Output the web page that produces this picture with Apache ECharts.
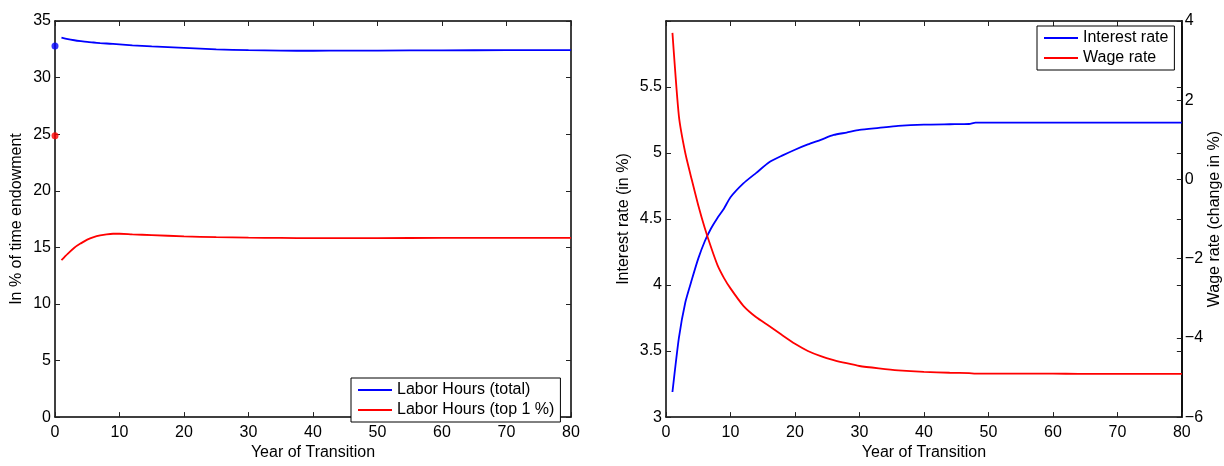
<!DOCTYPE html>
<html>
<head>
<meta charset="utf-8">
<script src="https://cdn.jsdelivr.net/npm/echarts/dist/echarts.min.js"></script>
<style>
html,body{margin:0;padding:0;background:#fff;}
#chart{width:1224px;height:466px;}
</style>
</head>
<body>
<div id="chart"></div>
<script>
// ---- Left panel data ----
const yearsL = [1,2,3,4,5,6,7,8,9,10,12,15,20,25,30,35,40,45,50,60,70,80];
const laborTotal = [33.54,33.40,33.30,33.22,33.15,33.10,33.05,33.01,32.97,32.93,32.85,32.75,32.62,32.50,32.42,32.38,32.37,32.38,32.39,32.41,32.42,32.42];
const laborTop1 = [13.87,14.45,14.97,15.35,15.68,15.90,16.05,16.15,16.20,16.20,16.15,16.08,15.97,15.90,15.85,15.83,15.82,15.82,15.82,15.83,15.83,15.83];
const initialYear = 0;
const initialTotal = 32.8;
const initialTop1 = 24.87;

// ---- Right panel data ----
const yearsR = [1,2,3,4,5,6,7,8,9,10,12,14,16,18,20,22,24,26,28,30,33,36,40,44,47,48,52,56,60,64,68,72,76,80];
const interestRate = [3.19,3.60,3.87,4.04,4.20,4.33,4.43,4.51,4.58,4.665,4.77,4.85,4.93,4.98,5.025,5.065,5.10,5.137,5.155,5.175,5.19,5.205,5.215,5.218,5.22,5.23,5.23,5.23,5.23,5.23,5.23,5.23,5.23,5.23];
const wageRate = [3.70,1.60,0.66,-0.01,-0.65,-1.22,-1.72,-2.17,-2.49,-2.75,-3.19,-3.48,-3.70,-3.93,-4.15,-4.33,-4.46,-4.56,-4.64,-4.71,-4.77,-4.82,-4.86,-4.88,-4.89,-4.90,-4.90,-4.90,-4.90,-4.91,-4.91,-4.91,-4.91,-4.91];

// ---- Labels ----
const xName = 'Year of Transition';
const leftYName = 'In % of time endowment';
const interestName = 'Interest rate (in %)';
const wageName = 'Wage rate (change in %)';
const seriesNames = ['Labor Hours (total)','Labor Hours (top 1 %)','Interest rate','Wage rate'];

const FONT = "'Liberation Sans', Arial, Helvetica, sans-serif";
const BLUE = '#0000ff', RED = '#ff0000';

function pairs(xs, ys){ return xs.map((x,i)=>[x, ys[i]]); }

const axisLineStyle = {show:true, onZero:false, lineStyle:{color:'#000', width:1.5}};
const tickStyle = {show:true, inside:true, length:5, lineStyle:{color:'#222', width:1}};
const labelStyle = {color:'#000', fontSize:16, fontFamily:FONT};
const nameStyle = {color:'#000', fontSize:16, fontFamily:FONT};

function xAxisBottom(grid){
  return {type:'value', gridIndex:grid, position:'bottom', min:0, max:80, interval:10,
    axisLine:axisLineStyle, axisTick:tickStyle, splitLine:{show:false},
    axisLabel:Object.assign({margin:7}, labelStyle),
    name:xName, nameLocation:'middle', nameGap:22, nameTextStyle:nameStyle};
}
function xAxisTop(grid){
  return {type:'value', gridIndex:grid, position:'top', min:0, max:80, interval:10,
    axisLine:axisLineStyle, axisTick:tickStyle, splitLine:{show:false}, axisLabel:{show:false}};
}

const option = {
  animation:false,
  backgroundColor:'#fff',
  textStyle:{fontFamily:FONT},
  grid:[
    {left:55, right:653, top:21, bottom:39, containLabel:false},
    {left:666, right:42, top:21, bottom:39, containLabel:false}
  ],
  legend:[
    {data:[seriesNames[0], seriesNames[1]], left:351, top:378, orient:'vertical', icon:'rect',
     itemWidth:34, itemHeight:2, itemGap:4, padding:[4,6,4,7], borderColor:'#000', borderWidth:1,
     backgroundColor:'#fff', selectedMode:false,
     textStyle:{fontSize:16, color:'#000', lineHeight:16, fontFamily:FONT}},
    {data:[seriesNames[2], seriesNames[3]], left:1037, top:26, orient:'vertical', icon:'rect',
     itemWidth:34, itemHeight:2, itemGap:4, padding:[4,6,4,7], borderColor:'#000', borderWidth:1,
     backgroundColor:'#fff', selectedMode:false,
     textStyle:{fontSize:16, color:'#000', lineHeight:16, fontFamily:FONT}}
  ],
  xAxis:[xAxisBottom(0), xAxisTop(0), xAxisBottom(1), xAxisTop(1)],
  yAxis:[
    {type:'value', gridIndex:0, position:'left', min:0, max:35, interval:5,
     axisLine:axisLineStyle, axisTick:tickStyle, splitLine:{show:false},
     axisLabel:Object.assign({margin:4}, labelStyle),
     name:leftYName, nameLocation:'middle', nameGap:30, nameRotate:90, nameTextStyle:nameStyle},
    {type:'value', gridIndex:0, position:'right', min:0, max:35, interval:5,
     axisLine:axisLineStyle, axisTick:tickStyle, splitLine:{show:false}, axisLabel:{show:false}},
    {type:'value', gridIndex:1, position:'left', min:3, max:6, interval:0.5,
     axisLine:axisLineStyle, axisTick:tickStyle, splitLine:{show:false},
     axisLabel:Object.assign({margin:4, formatter:v => (v===6 ? '' : String(v))}, labelStyle),
     name:interestName, nameLocation:'middle', nameGap:34, nameRotate:90, nameTextStyle:nameStyle},
    {type:'value', gridIndex:1, position:'right', min:-6, max:4, interval:2,
     axisLine:axisLineStyle, axisTick:tickStyle, splitLine:{show:false},
     axisLabel:Object.assign({margin:3, formatter:v => (v<0 ? '\u2212'+Math.abs(v) : String(v))}, labelStyle),
     name:wageName, nameLocation:'middle', nameGap:25, nameRotate:90, nameTextStyle:nameStyle},
    {type:'value', gridIndex:1, position:'right', min:3, max:6, interval:0.5,
     axisLine:axisLineStyle, axisTick:tickStyle, splitLine:{show:false}, axisLabel:{show:false}}
  ],
  series:[
    {name:seriesNames[0], type:'line', xAxisIndex:0, yAxisIndex:0, data:pairs(yearsL, laborTotal),
     showSymbol:false, smooth:0.3, lineStyle:{color:BLUE, width:1.8}, itemStyle:{color:BLUE}},
    {name:seriesNames[1], type:'line', xAxisIndex:0, yAxisIndex:0, data:pairs(yearsL, laborTop1),
     showSymbol:false, smooth:0.3, lineStyle:{color:RED, width:1.8}, itemStyle:{color:RED}},
    {name:'init-total', type:'scatter', xAxisIndex:0, yAxisIndex:0, data:[[initialYear, initialTotal]],
     symbolSize:7, clip:false, itemStyle:{color:BLUE}, z:5},
    {name:'init-top1', type:'scatter', xAxisIndex:0, yAxisIndex:0, data:[[initialYear, initialTop1]],
     symbolSize:7, clip:false, itemStyle:{color:RED}, z:5},
    {name:seriesNames[2], type:'line', xAxisIndex:2, yAxisIndex:2, data:pairs(yearsR, interestRate),
     showSymbol:false, smooth:0.2, lineStyle:{color:BLUE, width:1.8}, itemStyle:{color:BLUE}},
    {name:seriesNames[3], type:'line', xAxisIndex:2, yAxisIndex:3, data:pairs(yearsR, wageRate),
     showSymbol:false, smooth:0.2, lineStyle:{color:RED, width:1.8}, itemStyle:{color:RED}}
  ]
};

const chart = echarts.init(document.getElementById('chart'), null, {renderer:'canvas'});
chart.setOption(option);
</script>
</body>
</html>
